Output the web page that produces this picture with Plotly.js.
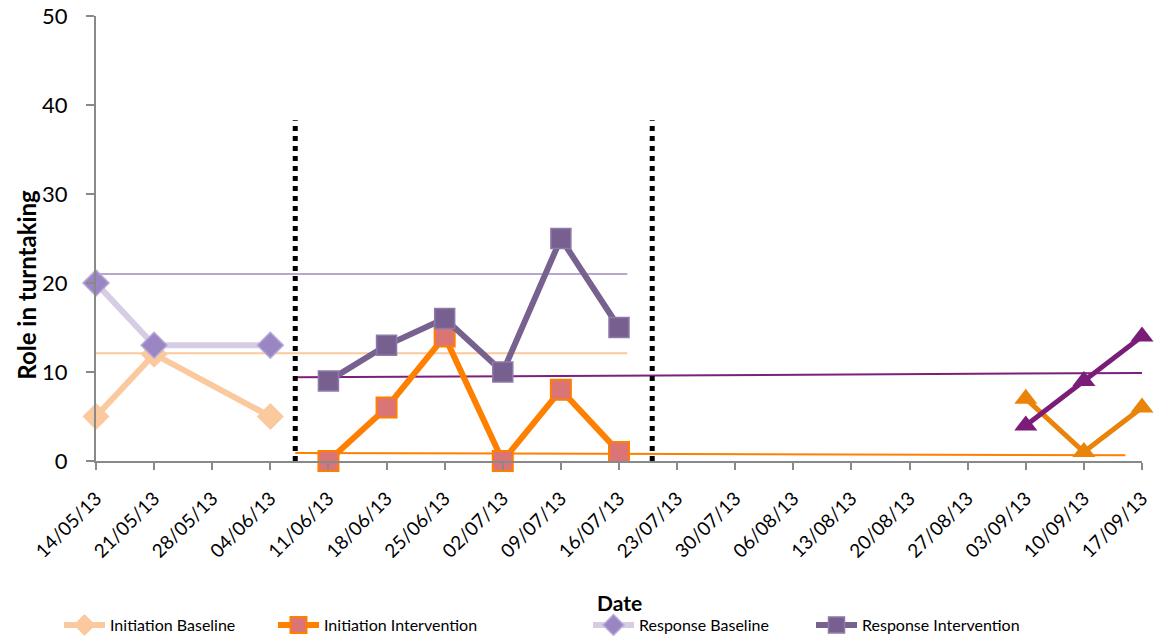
<!DOCTYPE html>
<html>
<head>
<meta charset="utf-8">
<script src="https://cdn.plot.ly/plotly-3.0.1.min.js"></script>
<style>body{margin:0;background:#fff}#chart{width:1159px;height:639px}</style>
</head>
<body>
<div id="chart"></div>
<script>
// Baseline phase
const baselineDates = ['2013-05-14', '2013-05-21', '2013-06-04'];
const initiationBaseline = [5, 12, 5];
const responseBaseline = [20, 13, 13];

// Intervention phase
const interventionDates = ['2013-06-11', '2013-06-18', '2013-06-25', '2013-07-02', '2013-07-09', '2013-07-16'];
const initiationIntervention = [0, 6, 14, 0, 8, 1];
const responseIntervention = [9, 13, 16, 10, 25, 15];

// Maintenance phase
const maintenanceDates = ['2013-09-03', '2013-09-10', '2013-09-17'];
const initiationMaintenance = [7, 1, 6];
const responseMaintenance = [4, 9, 14];

// Mean / trend lines
const baselineMeanDates = ['2013-05-14', '2013-07-17'];
const initiationBaselineMean = [12.1, 12.1];
const responseBaselineMean = [21, 21];
const interventionTrendDates = ['2013-06-07', '2013-09-17'];
const responseTrend = [9.4, 9.9];
const initiationTrendDates = ['2013-06-07', '2013-09-15'];
const initiationTrend = [0.9, 0.65];

// Phase change lines
const phaseChangeDates = ['2013-06-07', '2013-07-20'];
const phaseLineTop = 38.3;

const FONT = 'Lato, "Open Sans", "Noto Sans", sans-serif';

const traces = [
  {x: baselineMeanDates, y: responseBaselineMean, mode: 'lines', line: {color: '#B7A7CD', width: 2}, showlegend: false, hoverinfo: 'skip'},
  {x: baselineMeanDates, y: initiationBaselineMean, mode: 'lines', line: {color: '#FAC99E', width: 2}, showlegend: false, hoverinfo: 'skip'},
  {x: interventionTrendDates, y: responseTrend, mode: 'lines', line: {color: '#7D1F7C', width: 2}, showlegend: false, hoverinfo: 'skip'},
  {x: initiationTrendDates, y: initiationTrend, mode: 'lines', line: {color: '#FF7F00', width: 2}, showlegend: false, hoverinfo: 'skip'},
  {name: 'Initiation Baseline', x: baselineDates, y: initiationBaseline, mode: 'lines+markers', legend: 'legend',
   line: {color: '#FAC99E', width: 6}, marker: {symbol: 'diamond', size: 20, color: '#FAC99E', line: {color: '#FAC99E', width: 1}}},
  {name: 'Response Baseline', x: baselineDates, y: responseBaseline, mode: 'lines+markers', legend: 'legend3',
   line: {color: '#D6CCE4', width: 6}, marker: {symbol: 'diamond', size: 20, color: '#9B86C4', line: {color: '#B9A8D8', width: 1.5}}},
  {name: 'Initiation Intervention', x: interventionDates, y: initiationIntervention, mode: 'lines+markers', legend: 'legend2',
   line: {color: '#FF7F00', width: 6}, marker: {symbol: 'square', size: 20, color: '#DB7474', line: {color: '#FF7F00', width: 2}}},
  {name: 'Response Intervention', x: interventionDates, y: responseIntervention, mode: 'lines+markers', legend: 'legend4',
   line: {color: '#77628F', width: 6}, marker: {symbol: 'square', size: 20, color: '#77608F', line: {color: '#8E7AAA', width: 1.5}}},
  {x: maintenanceDates, y: initiationMaintenance, mode: 'lines+markers', showlegend: false,
   line: {color: '#EA830A', width: 5}, marker: {symbol: 'triangle-up', size: 20, color: '#EA830A'}},
  {x: maintenanceDates, y: responseMaintenance, mode: 'lines+markers', showlegend: false,
   line: {color: '#7B1C78', width: 5}, marker: {symbol: 'triangle-up', size: 20, color: '#7B1C78'}}
];

const shapes = phaseChangeDates.map(d => ({
  type: 'line', xref: 'x', yref: 'y', x0: d, x1: d, y0: 0, y1: phaseLineTop,
  line: {color: '#000000', width: 5, dash: 'dot'}
}));

function legendAt(px) {
  return {orientation: 'h', xref: 'container', yref: 'container', x: px / 1159, xanchor: 'left',
          y: 1 - 625 / 639, yanchor: 'middle', itemwidth: 41, borderwidth: 0, bgcolor: 'rgba(0,0,0,0)',
          font: {family: FONT, size: 16, color: '#000'}};
}

const layout = {
  width: 1159, height: 639,
  margin: {l: 96, r: 17, t: 16, b: 178, autoexpand: false},
  paper_bgcolor: '#ffffff', plot_bgcolor: '#ffffff',
  font: {family: FONT, color: '#000000'},
  showlegend: true,
  legend: legendAt(59), legend2: legendAt(273), legend3: legendAt(588), legend4: legendAt(811),
  xaxis: {
    type: 'date', range: ['2013-05-14', '2013-09-17'],
    tick0: '2013-05-14', dtick: 7 * 86400000, tickformat: '%d/%m/%y',
    tickangle: -45, tickfont: {family: FONT, size: 19, color: '#000'},
    showgrid: false, zeroline: false, showline: true, linecolor: '#898989', linewidth: 2,
    ticks: 'outside', ticklen: 7, tickwidth: 2, tickcolor: '#898989', ticklabelstandoff: 10, fixedrange: true
  },
  yaxis: {
    range: [0, 50], dtick: 10, tick0: 0,
    tickfont: {family: FONT, size: 22, color: '#000'},
    showgrid: false, zeroline: false, showline: true, linecolor: '#898989', linewidth: 2,
    ticks: 'outside', ticklen: 8, tickwidth: 2, tickcolor: '#898989', ticklabelstandoff: 14
  },
  shapes: shapes,
  annotations: [
    {text: '<b>Date</b>', xref: 'paper', yref: 'paper', x: 0.5, y: -0.317, xanchor: 'center', yanchor: 'middle',
     showarrow: false, font: {family: FONT, size: 21, color: '#000'}},
    {text: '<b>Role in turntaking</b>', xref: 'paper', yref: 'paper', x: -0.066, y: 0.396, xanchor: 'center', yanchor: 'middle',
     textangle: -90, showarrow: false, font: {family: FONT, size: 24, color: '#000'}}
  ]
};

traces.forEach(t => { t.cliponaxis = false; });
Plotly.newPlot('chart', traces, layout, {displayModeBar: false, staticPlot: true});
</script>
</body>
</html>
